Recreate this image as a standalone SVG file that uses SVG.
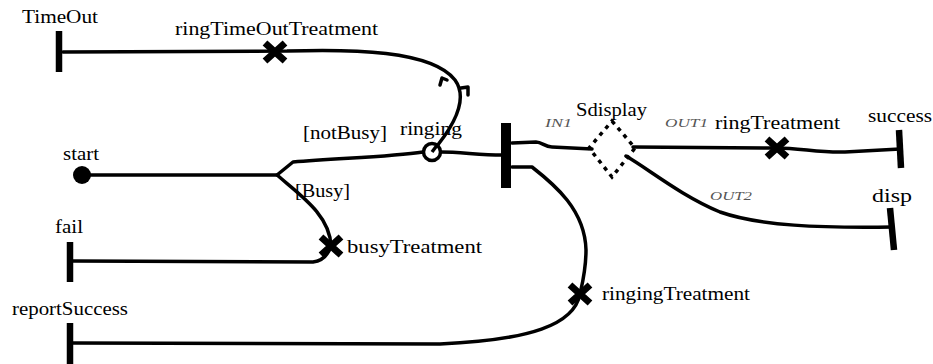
<svg xmlns="http://www.w3.org/2000/svg" width="933" height="364" viewBox="0 0 933 364">
<defs>
<style>
.lbl{font-family:"Liberation Serif","Times New Roman",serif;font-size:19px;fill:#000}
.port{font-family:"Liberation Serif","Times New Roman",serif;font-size:12px;font-style:italic;fill:#555}
.wire{fill:none;stroke:#000;stroke-width:3.5;stroke-linecap:round;stroke-linejoin:round}
.bar{fill:none;stroke:#000;stroke-width:6.5}
.xm{fill:none;stroke:#000;stroke-width:7}
</style>
<g id="xmark"><path class="xm" d="M-10,-9 L10,9 M10,-9 L-10,9"/></g>
</defs>
<rect width="933" height="364" fill="#fff"/>

<g id="connectors">
<path class="wire" d="M63,52 L287,51 C350,49 432,50 455,80 C468,98 455,125 432,152"/>
<path class="wire" d="M440,85 L442,78 L447,80"/>
<path class="wire" d="M461,88 L468,87 L468,95"/>
<path class="wire" d="M82,175 L277,175 L293,162 C340,158 390,157 423,152"/>
<path class="wire" d="M277,175 C300,195 330,215 331,246"/>
<path class="wire" d="M73,261 L313,262 C322,261 328,255 331,246"/>
<path class="wire" d="M441,152 C460,152 480,155 502,155"/>
<path class="wire" d="M512,143 L536,142 C542,142 545,147 552,147 L592,149"/>
<path class="wire" d="M633,147 L777,148 C800,148 820,153 845,152 L900,149"/>
<path class="wire" d="M626,156 C650,170 680,195 720,212 C760,226 820,228 892,227"/>
<path class="wire" d="M512,167 L532,167 C555,185 585,210 586,250 C586,270 582,285 580,294 C574,325 530,340 440,344 L73,343"/>
<text class="lbl" x="303" y="139" textLength="84" lengthAdjust="spacingAndGlyphs">[notBusy]</text>
<text class="lbl" x="295" y="197" textLength="55" lengthAdjust="spacingAndGlyphs">[Busy]</text>
<text class="port" x="545" y="127" textLength="27" lengthAdjust="spacingAndGlyphs">IN1</text>
<text class="port" x="665" y="127" textLength="43" lengthAdjust="spacingAndGlyphs">OUT1</text>
<text class="port" x="710" y="200" textLength="42" lengthAdjust="spacingAndGlyphs">OUT2</text>
</g>

<g id="TimeOut">
<line class="bar" x1="59" y1="31" x2="59" y2="72"/>
<text class="lbl" x="22" y="23" textLength="76" lengthAdjust="spacingAndGlyphs">TimeOut</text>
</g>

<g id="start">
<circle cx="82" cy="175" r="9" fill="#000"/>
<text class="lbl" x="63" y="160" textLength="36" lengthAdjust="spacingAndGlyphs">start</text>
</g>

<g id="fail">
<line class="bar" x1="70" y1="242" x2="70" y2="282"/>
<text class="lbl" x="55" y="233" textLength="28" lengthAdjust="spacingAndGlyphs">fail</text>
</g>

<g id="reportSuccess">
<line class="bar" x1="70" y1="323" x2="70" y2="364"/>
<text class="lbl" x="12" y="315" textLength="116" lengthAdjust="spacingAndGlyphs">reportSuccess</text>
</g>

<g id="ringTimeOutTreatment">
<use href="#xmark" x="275" y="52"/>
<text class="lbl" x="175" y="35" textLength="203" lengthAdjust="spacingAndGlyphs">ringTimeOutTreatment</text>
</g>

<g id="busyTreatment">
<use href="#xmark" x="331" y="246"/>
<text class="lbl" x="347" y="253" textLength="135" lengthAdjust="spacingAndGlyphs">busyTreatment</text>
</g>

<g id="ringing">
<circle cx="432" cy="152" r="8.5" fill="#fff" stroke="#000" stroke-width="3.5"/>
<line x1="438" y1="144" x2="432" y2="152" stroke="#000" stroke-width="3.5"/>
<text class="lbl" x="400" y="135" textLength="62" lengthAdjust="spacingAndGlyphs">ringing</text>
</g>

<g id="fork">
<rect x="501" y="123" width="10" height="65" fill="#000"/>
</g>

<g id="ringingTreatment">
<use href="#xmark" x="580" y="294"/>
<text class="lbl" x="602" y="300" textLength="148" lengthAdjust="spacingAndGlyphs">ringingTreatment</text>
</g>

<g id="Sdisplay">
<polygon points="612,121 635,148 612,177 589,148" fill="none" stroke="#000" stroke-width="3.5" stroke-dasharray="4,5"/>
<text class="lbl" x="576" y="116" textLength="71" lengthAdjust="spacingAndGlyphs">Sdisplay</text>
</g>

<g id="ringTreatment">
<use href="#xmark" x="777" y="148"/>
<text class="lbl" x="715" y="129" textLength="125" lengthAdjust="spacingAndGlyphs">ringTreatment</text>
</g>

<g id="success">
<line class="bar" x1="899" y1="130" x2="901" y2="168"/>
<text class="lbl" x="868" y="122" textLength="64" lengthAdjust="spacingAndGlyphs">success</text>
</g>

<g id="disp">
<line class="bar" x1="890" y1="208" x2="894" y2="250"/>
<text class="lbl" x="872" y="202" textLength="40" lengthAdjust="spacingAndGlyphs">disp</text>
</g>
</svg>
